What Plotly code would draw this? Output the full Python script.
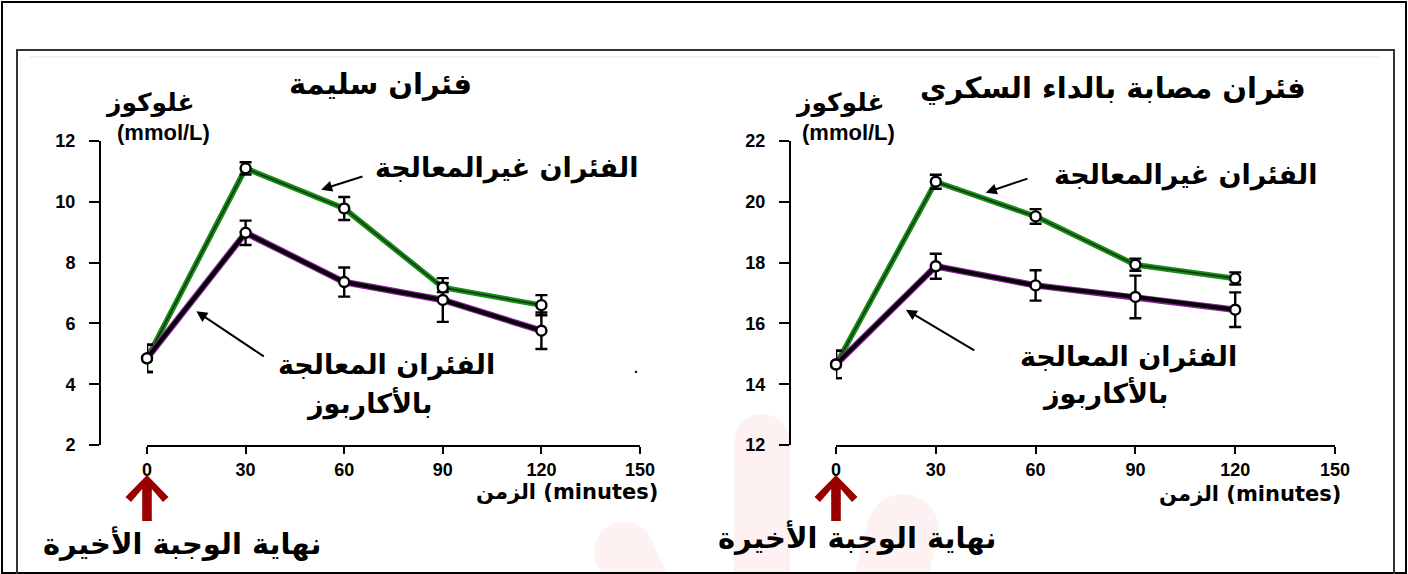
import math
import plotly.graph_objects as go

W, H = 1408, 574

# ---------------- data ----------------
times = [0, 30, 60, 90, 120]
x_ticks = [0, 30, 60, 90, 120, 150]

# Healthy mice (left panel)
healthy_untreated = [4.85, 11.1, 9.78, 7.18, 6.6]
healthy_untreated_err = [0.45, 0.2, 0.38, 0.15, 0.33]
healthy_acarbose = [4.85, 8.98, 7.36, 6.77, 5.76]
healthy_acarbose_err = [0.45, 0.4, 0.48, 0.72, 0.6]
healthy_yticks = [2, 4, 6, 8, 10, 12]

# Diabetic mice (right panel)
diabetic_untreated = [14.65, 20.66, 19.52, 17.93, 17.48]
diabetic_untreated_err = [0.45, 0.23, 0.24, 0.2, 0.2]
diabetic_acarbose = [14.65, 17.88, 17.25, 16.87, 16.45]
diabetic_acarbose_err = [0.45, 0.41, 0.5, 0.7, 0.57]
diabetic_yticks = [12, 14, 16, 18, 20, 22]

title_left = "فئران سليمة"
title_right = "فئران مصابة بالداء السكري"
ylab_ar = "غلوكوز"
ylab_unit = "(mmol/L)"
xlab = "الزمن (minutes)"
lab_untreated = "الفئران غيرالمعالجة"
lab_acarbose_1 = "الفئران المعالجة"
lab_acarbose_2 = "بالأكاربوز"
lab_meal = "نهاية الوجبة الأخيرة"

GREEN = "#1b8a1b"
GREEN_CORE = "#0b3d0b"
PURPLE = "#8a1f9a"
PURPLE_CORE = "#000000"
ARROW_RED = "#990000"
AR_FONT = "DejaVu Sans"
NUM_FONT = "Liberation Sans"


def px(x):
    return x / W


def py(y):
    return 1 - y / H


fig = go.Figure()

panels = [
    dict(xa="x", ya="y", xname="xaxis", yname="yaxis",
         g=healthy_untreated, ge=healthy_untreated_err,
         p=healthy_acarbose, pe=healthy_acarbose_err,
         yt=healthy_yticks, xdom=(147, 640), yline=100),
    dict(xa="x2", ya="y2", xname="xaxis2", yname="yaxis2",
         g=diabetic_untreated, ge=diabetic_untreated_err,
         p=diabetic_acarbose, pe=diabetic_acarbose_err,
         yt=diabetic_yticks, xdom=(836, 1335), yline=790),
]

for pn in panels:
    fig.add_trace(go.Scatter(x=times, y=pn["g"], xaxis=pn["xa"], yaxis=pn["ya"],
                             mode="lines", line=dict(color=GREEN, width=5.5),
                             hoverinfo="skip", showlegend=False, cliponaxis=False))
    fig.add_trace(go.Scatter(x=times, y=pn["g"], xaxis=pn["xa"], yaxis=pn["ya"],
                             mode="lines", line=dict(color=GREEN_CORE, width=1.6),
                             hoverinfo="skip", showlegend=False, cliponaxis=False))
    fig.add_trace(go.Scatter(x=times, y=pn["p"], xaxis=pn["xa"], yaxis=pn["ya"],
                             mode="lines", line=dict(color=PURPLE, width=6.5),
                             hoverinfo="skip", showlegend=False, cliponaxis=False))
    fig.add_trace(go.Scatter(x=times, y=pn["p"], xaxis=pn["xa"], yaxis=pn["ya"],
                             mode="lines", line=dict(color=PURPLE_CORE, width=4),
                             hoverinfo="skip", showlegend=False, cliponaxis=False))
    for vals, errs in ((pn["p"], pn["pe"]), (pn["g"], pn["ge"])):
        fig.add_trace(go.Scatter(
            x=times, y=vals, xaxis=pn["xa"], yaxis=pn["ya"], mode="markers",
            marker=dict(symbol="circle", size=10, color="white",
                        line=dict(color="black", width=2.4)),
            error_y=dict(type="data", array=errs, visible=True,
                         color="black", thickness=2.4, width=6),
            showlegend=False, cliponaxis=False))

    yt = pn["yt"]
    fig.layout[pn["xname"]] = dict(
        domain=[px(pn["xdom"][0]), px(pn["xdom"][1])],
        range=[x_ticks[0], x_ticks[-1]], tickvals=x_ticks,
        ticks="outside", ticklen=7, tickwidth=2, tickcolor="black",
        showline=True, linewidth=2, linecolor="black",
        showgrid=False, zeroline=False, anchor=pn["ya"], automargin=False,
        tickfont=dict(family=NUM_FONT, size=18, color="black", weight="bold"),
        fixedrange=True)
    fig.layout[pn["yname"]] = dict(
        domain=[py(445), py(141)], range=[yt[0], yt[-1]], tickvals=yt,
        ticks="outside", ticklen=10, tickwidth=2, tickcolor="black",
        showline=True, linewidth=2, linecolor="black",
        showgrid=False, zeroline=False, anchor="free", automargin=False,
        position=px(pn["yline"]), ticklabelstandoff=10,
        tickfont=dict(family=NUM_FONT, size=18, color="black", weight="bold"),
        fixedrange=True)

ann = []


def txt(x, y, s, size=17, font=AR_FONT, xanchor="center"):
    ann.append(dict(x=px(x), y=py(y), xref="paper", yref="paper", text=s,
                    showarrow=False, xanchor=xanchor, yanchor="middle",
                    font=dict(family=font, size=size, color="black", weight="bold")))


txt(380, 84, title_left, size=29)
txt(1113, 88, title_right, size=29)
txt(150, 103, ylab_ar, size=25)
txt(163, 132, ylab_unit, size=22, font=NUM_FONT)
txt(840, 103, ylab_ar, size=25)
txt(848, 132, ylab_unit, size=22, font=NUM_FONT)
txt(567, 492, xlab, size=21)
txt(1250, 494, xlab, size=21)

txt(506, 168, lab_untreated, size=27)
txt(386, 365, lab_acarbose_1, size=27)
txt(369, 403, lab_acarbose_2, size=27)
txt(1185, 175, lab_untreated, size=27)
txt(1128, 357, lab_acarbose_1, size=27)
txt(1105, 393, lab_acarbose_2, size=27)

txt(182, 543, lab_meal, size=29)
txt(857, 537, lab_meal, size=29)
txt(636, 368, ".", size=14, font=NUM_FONT)


def arrow(xref, yref, x, y, ax, ay):
    ann.append(dict(x=x, y=y, ax=ax, ay=ay, xref=xref, yref=yref,
                    axref=xref, ayref=yref, text="", showarrow=True,
                    arrowhead=2, arrowsize=1.1, arrowwidth=2, arrowcolor="black"))


arrow("x", "y", 53, 10.4, 66, 10.85)
arrow("x", "y", 15, 6.4, 36, 4.88)
arrow("x2", "y2", 45, 20.3, 58, 20.78)
arrow("x2", "y2", 21, 16.45, 42, 15.08)

fig.update_layout(annotations=ann)


def capsule(x1, y1, x2, y2, r, n=14):
    ang = math.atan2(y2 - y1, x2 - x1)
    pts = []
    for i in range(n + 1):
        a = ang - math.pi / 2 + math.pi * i / n
        pts.append((x2 + r * math.cos(a), y2 + r * math.sin(a)))
    for i in range(n + 1):
        a = ang + math.pi / 2 + math.pi * i / n
        pts.append((x1 + r * math.cos(a), y1 + r * math.sin(a)))
    return "M " + " L ".join(f"{px(a):.5f},{py(b):.5f}" for a, b in pts) + " Z"


def meal_arrow(xc):
    # block arrow outline in pixels: (offset from the t = 0 tick, row)
    outline = [(0, 475), (21.5, 497), (16, 502), (4.8, 489), (4.8, 521),
               (-4.8, 521), (-4.8, 489), (-16, 502), (-21.5, 497)]
    return "M " + " L ".join(f"{px(xc + dx):.5f},{py(yy):.5f}" for dx, yy in outline) + " Z"


shapes = [
    dict(type="path", path=capsule(762, 442, 762, 620, 28), xref="paper", yref="paper",
         fillcolor="rgba(240,120,120,0.10)", line=dict(width=0), layer="below"),
    dict(type="path", path=capsule(903, 530, 880, 620, 36), xref="paper", yref="paper",
         fillcolor="rgba(240,120,120,0.10)", line=dict(width=0), layer="below"),
    dict(type="path", path=capsule(624, 552, 655, 620, 30), xref="paper", yref="paper",
         fillcolor="rgba(240,120,120,0.10)", line=dict(width=0), layer="below"),
    dict(type="rect", xref="paper", yref="paper", x0=px(2), x1=px(W - 2), y0=py(H - 1), y1=py(2),
         line=dict(color="black", width=2), layer="below"),
    dict(type="rect", xref="paper", yref="paper", x0=px(17), x1=px(1394), y0=py(H + 5), y1=py(50),
         line=dict(color="#333333", width=2), layer="below"),
    dict(type="line", xref="paper", yref="paper", x0=px(30), x1=px(1380), y0=py(57), y1=py(57),
         line=dict(color="#eeeeee", width=1.5), layer="below"),
    dict(type="path", xref="paper", yref="paper", path=meal_arrow(147),
         fillcolor=ARROW_RED, line=dict(width=0)),
    dict(type="path", xref="paper", yref="paper", path=meal_arrow(836),
         fillcolor=ARROW_RED, line=dict(width=0)),
]

fig.update_layout(
    template="none",
    width=W, height=H, autosize=False,
    margin=dict(l=0, r=0, t=0, b=0, pad=0, autoexpand=False),
    paper_bgcolor="white", plot_bgcolor="rgba(0,0,0,0)",
    showlegend=False, shapes=shapes,
)

page_fix = (
    "document.documentElement.style.margin='0';"
    "document.body.style.margin='0';document.body.style.padding='0';"
    "document.documentElement.style.overflow='hidden';document.body.style.overflow='hidden';"
    "var d=document.getElementById('{plot_id}');"
    "d.style.position='fixed';d.style.left='0px';d.style.top='0px';"
)

fig.write_html("out.html", post_script=page_fix, config={"displayModeBar": False})
